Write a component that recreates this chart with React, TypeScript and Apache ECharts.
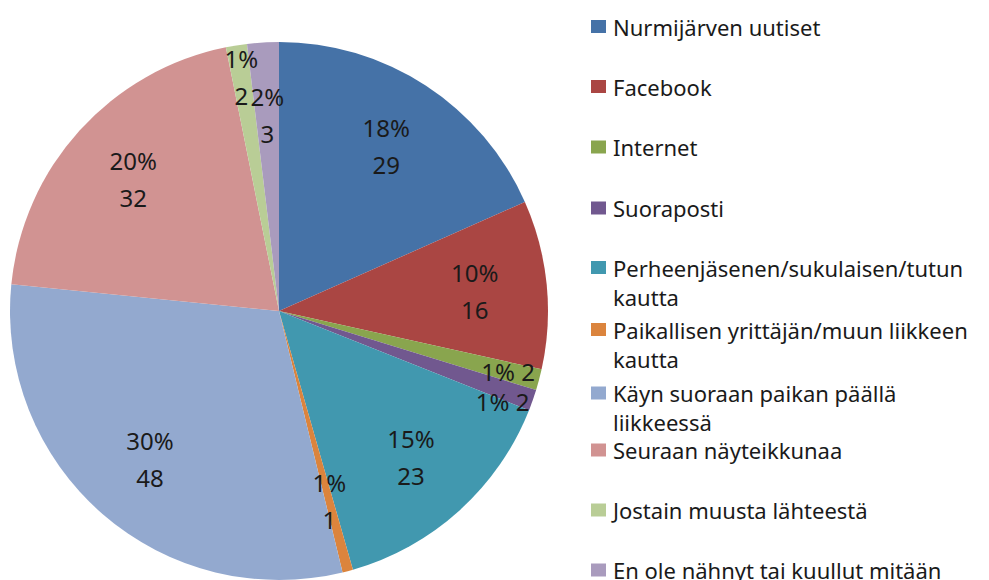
import React, { useEffect, useRef } from "react";
import * as echarts from "echarts";

const categories = [
  "Nurmijärven uutiset",
  "Facebook",
  "Internet",
  "Suoraposti",
  "Perheenjäsenen/sukulaisen/tutun kautta",
  "Paikallisen yrittäjän/muun liikkeen kautta",
  "Käyn suoraan paikan päällä liikkeessä",
  "Seuraan näyteikkunaa",
  "Jostain muusta lähteestä",
  "En ole nähnyt tai kuullut mitään",
];
const legendLabels = [
  "Nurmijärven uutiset",
  "Facebook",
  "Internet",
  "Suoraposti",
  "Perheenjäsenen/sukulaisen/tutun\nkautta",
  "Paikallisen yrittäjän/muun liikkeen\nkautta",
  "Käyn suoraan paikan päällä\nliikkeessä",
  "Seuraan näyteikkunaa",
  "Jostain muusta lähteestä",
  "En ole nähnyt tai kuullut mitään",
];
const values = [29, 16, 2, 2, 23, 1, 48, 32, 2, 3];
const colors = [
  "#4572A7", "#AA4643", "#89A54E", "#71588F", "#4198AF",
  "#DB843D", "#93A9CF", "#D19392", "#B9CD96", "#A99BBD",
];
// labels drawn near the rim
const outerLabel = [false, false, true, true, false, false, false, false, true, false];
const singleLine = [false, false, true, true, false, false, false, false, false, false];

const total = values.reduce((a, b) => a + b, 0);
const CX = 279, CY = 311, R = 269;
const FONT = "Noto Sans";

export default function App() {
  const ref = useRef<HTMLDivElement>(null);
  useEffect(() => {
    document.body.style.margin = "0";
    const chart = echarts.init(ref.current!, null, { renderer: "svg" });
    const fmt = (p: any) => {
      const pct = Math.round((p.value / total) * 100) + "%";
      return singleLine[p.dataIndex] ? `${pct} ${p.value}` : `${pct}\n${p.value}`;
    };
    const labelSeries = (inner: number, outer: boolean) => ({
      type: "pie",
      center: [CX, CY],
      radius: [inner, R],
      startAngle: 90,
      clockwise: true,
      silent: true,
      legendHoverLink: false,
      emphasis: { disabled: true },
      itemStyle: { color: "rgba(0,0,0,0)", borderWidth: 0 },
      labelLine: { show: false },
      labelLayout: outer
        ? { hideOverlap: false, moveOverlap: "shiftY" }
        : { hideOverlap: false },
      data: categories.map((name, i) => ({
        name,
        value: values[i],
        label: {
          show: outerLabel[i] === outer,
          position: "inside",
          formatter: fmt,
          color: "#1a1a1a",
          fontFamily: FONT,
          fontSize: 24,
          lineHeight: singleLine[i] ? 30 : 37,
        },
      })),
    });
    const legendCenters = [26.5, 86.5, 147, 208, 267.5, 329.5, 393, 450, 510, 570];
    const LH = 29;
    const legends = categories.map((name, i) => {
      const wrapped = legendLabels[i].includes("\n");
      // a blank first line keeps the first text line level with the icon
      const text = wrapped ? "\n" + legendLabels[i] : legendLabels[i];
      const h = (wrapped ? 3 : 1) * LH;
      return {
        orient: "vertical",
        left: 586,
        top: legendCenters[i] - 5 - h / 2,
        data: [name],
        itemWidth: 15,
        itemHeight: 13,
        icon: "rect",
        selectedMode: false,
        formatter: () => text,
        textStyle: {
          color: "#1a1a1a",
          fontFamily: FONT,
          fontSize: 22,
          lineHeight: LH,
          padding: [0, 0, 0, 2],
        },
      };
    });
    chart.setOption({
      animation: false,
      color: colors,
      legend: legends,
      series: [
        {
          type: "pie",
          name: "main",
          center: [CX, CY],
          radius: R,
          startAngle: 90,
          clockwise: true,
          emphasis: { disabled: true },
          label: { show: false },
          labelLine: { show: false },
          itemStyle: { borderWidth: 0 },
          data: categories.map((name, i) => ({ name, value: values[i], itemStyle: { color: colors[i] } })),
        },
        labelSeries(0.44 * R, false),
        labelSeries(0.74 * R, true),
      ],
    });
    return () => chart.dispose();
  }, []);
  return <div ref={ref} style={{ width: 989, height: 580 }} />;
}
